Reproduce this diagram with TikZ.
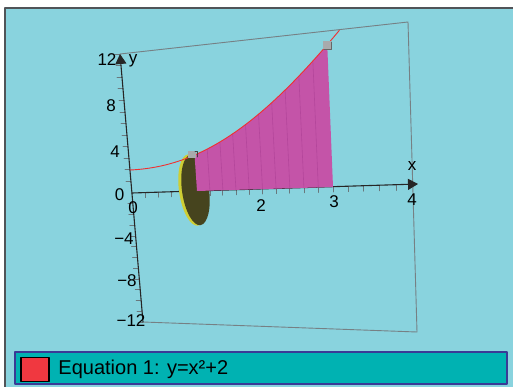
\documentclass[tikz,border=0pt]{standalone}
\usepackage{fontspec}
\setmainfont{Liberation Sans}
\usetikzlibrary{calc,arrows.meta,positioning}

\definecolor{panelcyan}{RGB}{137,211,222}
\definecolor{framegray}{RGB}{80,84,88}
\definecolor{boxgray}{RGB}{118,128,132}
\definecolor{tickgray}{RGB}{105,120,125}
\definecolor{regionpink}{RGB}{196,84,168}
\definecolor{meshpink}{RGB}{180,70,155}
\definecolor{diskolive}{RGB}{70,68,30}
\definecolor{rimyellow}{RGB}{206,206,52}
\definecolor{curvered}{RGB}{240,48,48}
\definecolor{markgray}{RGB}{168,170,172}
\definecolor{legendteal}{RGB}{0,178,178}
\definecolor{legendblue}{RGB}{58,58,150}
\definecolor{swatchred}{RGB}{240,56,64}

\begin{document}
\begin{tikzpicture}[x=1pt,y=-1pt,>=Stealth,line join=round,line cap=round,
    declare function={px(\u,\v)=132+66.25*\u-2*\u^2+0.75*\u^3-(0.96-0.146*\u)*\v;
                      py(\u,\v)=193-2*\u-(11.5+0.48*\u)*\v;},
    axisline/.style={black!85,line width=1.1pt},
    axistip/.style={-{Triangle[length=10pt,width=11pt]}},
    boxline/.style={boxgray,line width=0.9pt},
    tickline/.style={tickgray,line width=0.8pt},
    meshline/.style={meshpink,line width=0.6pt},
    axlabel/.style={inner sep=0pt,font=\fontsize{17}{17}\selectfont},
    legendbox/.style={draw=legendblue,fill=legendteal,line width=1.3pt,minimum width=492pt,minimum height=32pt,inner sep=0pt},
    swatch/.style={draw=black,fill=swatchred,line width=1.8pt,minimum width=28pt,minimum height=24pt,inner sep=0pt}]
  \useasboundingbox (0,0) rectangle (513,387);
  \fill[white] (0,0) rectangle (513,387);
  \fill[panelcyan] (5,8) rectangle (513,387);
  \draw[framegray,line width=1.5pt] (5,387) -- (5,8) -- (513,8);

  \coordinate (O) at (132,193);
  \coordinate (YT) at (120,54);
  \coordinate (YB) at (143,322);
  \coordinate (XT) at (418,184);
  \coordinate (TR) at (408,22);
  \coordinate (BR) at (417,332);

  \draw[boxline] (YT) -- (TR) -- (BR) -- (YB);
  \foreach \k in {1,...,12}{
    \draw[tickline] ($(O)!\k/12!(YT)$) -- ++(-5,0);
    \draw[tickline] ($(O)!\k/12!(YB)$) -- ++(-5,0);
  }
  \foreach \t in {0.2,0.4,...,3.9}
    \draw[tickline] ({px(\t,0)},{py(\t,0)}) -- ++(0,5);
  \draw[axisline,axistip] (YB) -- (YT);
  \draw[axisline,axistip] (O) -- (XT);

  \fill[rimyellow,shift={(193,190)},rotate=8] (0,0) ellipse [x radius=14,y radius=36];
  \fill[diskolive,shift={(195.5,190)},rotate=8] (0,0) ellipse [x radius=13.5,y radius=35.5];

  \fill[regionpink] plot[domain=1:3,samples=40] ({px(\x,\x*\x+2)},{py(\x,\x*\x+2)})
    -- ({px(3,0)},{py(3,0)}) -- ({px(1,0)},{py(1,0)}) -- cycle;
  \foreach \t in {1.2,1.4,...,2.9}
    \draw[meshline] ({px(\t,0)},{py(\t,0)}) -- ({px(\t,\t*\t+2)},{py(\t,\t*\t+2)});
  \draw[curvered,line width=0.9pt] plot[domain=0:3.162,samples=60] ({px(\x,\x*\x+2)},{py(\x,\x*\x+2)});

  \fill[markgray] (188,151) rectangle (196,158);
  \draw[black!75,line width=0.9pt] (195,151) -- (197,151) -- (197,157);
  \fill[markgray] (323,41) rectangle (331,49);
  \draw[black!60,line width=0.8pt] (331,42) -- (331,49) -- (324,49);

  \node[axlabel] (ytwelve) at (107,60) {12};
  \node[axlabel] (yeight) at (111,106) {8};
  \node[axlabel] (yfour) at (115,152) {4};
  \node[axlabel] (yzero) at (119.5,195) {0};
  \node[axlabel] (ymfour) at (124,239) {−4};
  \node[axlabel] (ymeight) at (127,281) {−8};
  \node[axlabel] (ymtwelve) at (131,321) {−12};
  \node[axlabel] (yname) at (133,61) {y};
  \node[axlabel] (xzero) at (133,208) {0};
  \node[axlabel] (xtwo) at (261,206) {2};
  \node[axlabel] (xthree) at (334,202) {3};
  \node[axlabel] (xfour) at (412,200) {4};
  \node[axlabel] (xname) at (412,166) {x};

  \node[legendbox] (legend) at (261,368) {};
  \node[swatch] (sw) at (35,369.5) {};
  \node[anchor=west,font=\fontsize{20}{20}\selectfont] (eqn) [right=5pt of sw] {Equation 1: y=x²+2};
\end{tikzpicture}
\end{document}
